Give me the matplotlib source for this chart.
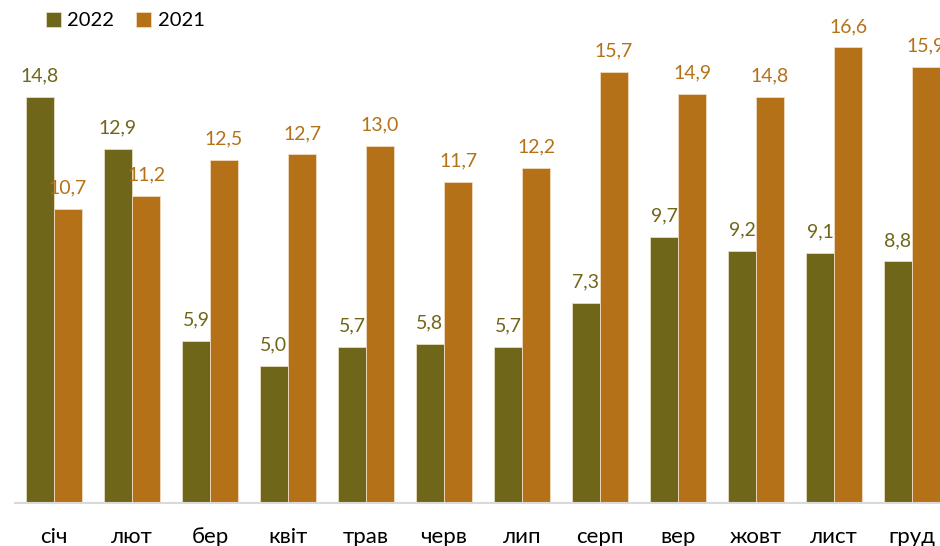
import numpy as np
import matplotlib
matplotlib.use("Agg")
import matplotlib.pyplot as plt

plt.rcParams['font.family'] = ['Lato', 'DejaVu Sans']

# дані
months = ["січ", "лют", "бер", "квіт", "трав", "черв", "лип", "серп", "вер", "жовт", "лист", "груд"]
vals_2022 = [14.8, 12.9, 5.9, 5.0, 5.7, 5.8, 5.7, 7.3, 9.7, 9.2, 9.1, 8.8]
vals_2021 = [10.7, 11.2, 12.5, 12.7, 13.0, 11.7, 12.2, 15.7, 14.9, 14.8, 16.6, 15.9]

c22 = "#706619"
c21 = "#b57118"

W, H = 940, 546
fig = plt.figure(figsize=(W / 100, H / 100), dpi=100)
ax = fig.add_axes([15 / W, (H - 503) / H, 936 / W, 494 / H])

x = np.arange(len(months))
w = 0.36
b1 = ax.bar(x - w / 2, vals_2022, w, color=c22, edgecolor="#e8dcc0", linewidth=0.6, label="2022")
b2 = ax.bar(x + w / 2, vals_2021, w, color=c21, edgecolor="#f0dcc0", linewidth=0.6, label="2021")

for bars, vals, col in [(b1, vals_2022, c22), (b2, vals_2021, c21)]:
    for r, v in zip(bars, vals):
        ax.annotate(f"{v:.1f}".replace(".", ","),
                    (r.get_x() + r.get_width() / 2, v),
                    xytext=(0, 9), textcoords="offset points",
                    ha="center", va="bottom", fontsize=14, color=col)

ax.set_xlim(-0.5, len(months) - 0.5)
ax.set_ylim(0, 18)
ax.set_xticks(x)
ax.set_xticklabels(months, fontsize=16)
ax.tick_params(axis="x", length=0, pad=17)
ax.set_yticks([])
for s in ["top", "right", "left"]:
    ax.spines[s].set_visible(False)
ax.spines["bottom"].set_color("#d9d9d9")
ax.spines["bottom"].set_linewidth(1.5)

fig.legend(loc="upper left", bbox_to_anchor=(34 / W, 1.0), ncol=2, frameon=False,
           fontsize=14.5, handlelength=0.75, handleheight=0.75, handletextpad=0.3,
           columnspacing=1.1, borderaxespad=0.2)

fig.savefig("out.png", dpi=100)
